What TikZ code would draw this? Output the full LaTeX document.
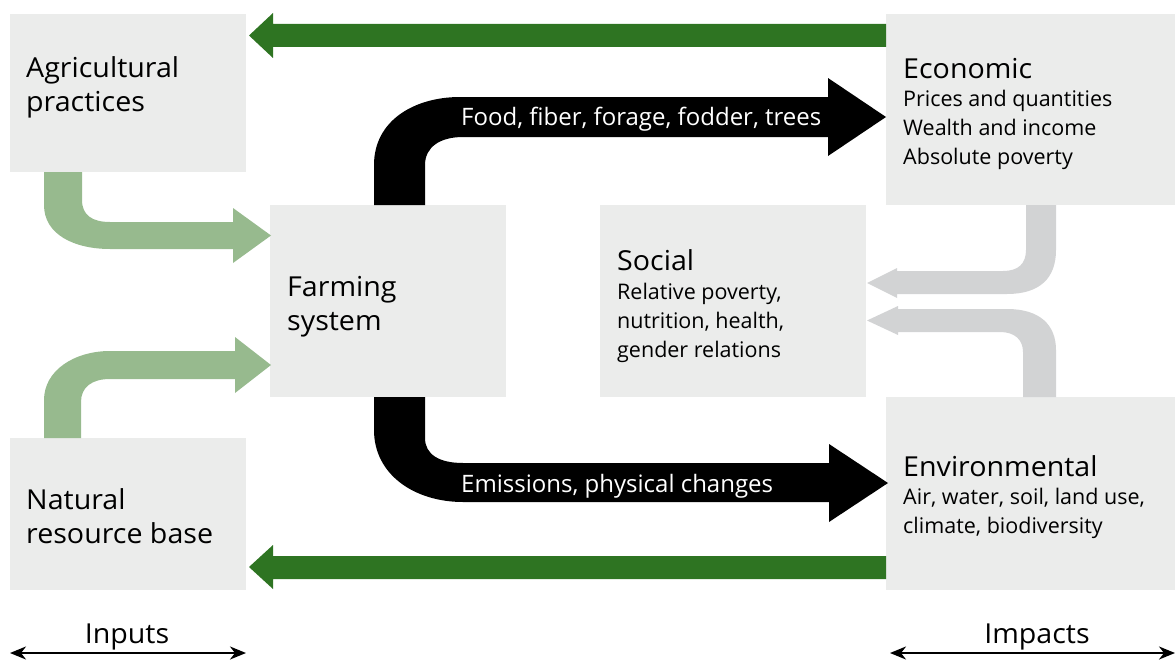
\documentclass[tikz,border=0pt]{standalone}
\usepackage{fontspec}
\setmainfont{Open Sans}[FakeStretch=1.04]
\newfontfamily\plainfont{Open Sans}
\usepackage{tikz}
\usetikzlibrary{arrows.meta}
\definecolor{boxgray}{RGB}{235,236,235}
\definecolor{lgreen}{RGB}{151,186,142}
\definecolor{dgreen}{RGB}{46,116,34}
\definecolor{lgray}{RGB}{210,211,212}
\tikzset{ttl/.style={font=\fontsize{27.5}{34}\selectfont},
  bdy/.style={font=\plainfont\fontsize{21.5}{28.7}\selectfont},
  lbl/.style={font=\plainfont\fontsize{24}{28}\selectfont,text=white}}

\begin{document}
\begin{tikzpicture}[x=1pt,y=-1pt]%
        \useasboundingbox (0,0) rectangle (1175,661);%%
        \begin{scope}[shape=rectangle,inner sep=0pt]
        \tikzstyle{every node}=[fill=boxgray] %%
        \node[minimum width=236pt,minimum height=158pt] (agri) at (128,93) {}; %%
        \node[minimum width=236pt,minimum height=152pt] (nrb) at (128,514) {}; %%
        \node[minimum width=236pt,minimum height=192pt] (farm) at (388,301) {}; %%
        \node[minimum width=266pt,minimum height=192pt] (soc) at (733,301) {}; %%
        \node[minimum width=289pt,minimum height=191pt] (eco) at (1030.5,109.5) {}; %%
        \node[minimum width=289pt,minimum height=193pt] (env) at (1030.5,493.5) {}; %%
        \end{scope}
        %% feedback arrows
        \fill[dgreen] (886,24)--(273,24)--(273,13)--(249,35.5)--(273,58)--(273,47)--(886,47)--cycle; %%
        \fill[dgreen] (886,556)--(273,556)--(273,545)--(249,567)--(273,589)--(273,579)--(886,579)--cycle; %%
        %% inputs
        \fill[lgreen] (44,172)--(44,205) .. controls (44,235) and (75,249) .. (110,249)--(233,249)--(233,263)--(271,235.5)--(233,208)--(233,222)--(110,222) .. controls (92,222) and (82,215) .. (82,200)--(82,172)--cycle; %%
        \fill[lgreen] (44,438)--(44,400) .. controls (44,370) and (75,351) .. (110,351)--(235,351)--(235,337)--(271,365)--(235,393)--(235,379)--(110,379) .. controls (92,379) and (81,387) .. (81,402)--(81,438)--cycle; %%
        %% outputs
        \fill[black] (374,205)--(374,165) .. controls (374,120) and (415,97) .. (460,97)--(828,97)--(828,78)--(886,117)--(828,156)--(828,137)--(463,137) .. controls (440,137) and (425,147) .. (425,165)--(425,205)--cycle; %%
        \fill[black] (374,397)--(374,430) .. controls (374,475) and (415,502) .. (463,502)--(829,502)--(829,522)--(888,483)--(829,444)--(829,463)--(463,463) .. controls (440,463) and (425,455) .. (425,438)--(425,397)--cycle; %%
        %% social links
        \fill[lgray] (1026,205)--(1026,250) .. controls (1026,264) and (1018,271) .. (1003,271)--(897,271)--(897,268)--(867,283)--(897,298)--(897,294)--(1007,294) .. controls (1040,294) and (1056,278) .. (1056,250)--(1056,205)--cycle; %%
        \fill[lgray] (1023,397)--(1023,352) .. controls (1023,340) and (1015,332) .. (1000,332)--(898,332)--(898,335)--(867,320.5)--(898,306)--(898,309)--(1007,309) .. controls (1040,309) and (1056,325) .. (1056,350)--(1056,397)--cycle; %%
        %% texts (base = last line)
        \begin{scope}[every node/.style={inner sep=0pt,anchor=base west,align=left}]
        \node[ttl] (tagri) at (26,111) {Agricultural\\practices}; %%
        \node[ttl] (tnrb) at (26,543) {Natural\\resource base}; %%
        \node[ttl] (tfarm) at (287,330) {Farming\\system}; %%
        \node[ttl] (tsoc) at (617,270) {Social}; %%
        \node[bdy] (bsoc) at (617,357) {Relative poverty,\\nutrition, health,\\gender relations}; %%
        \node[ttl] (teco) at (903,78) {Economic}; %%
        \node[bdy] (beco) at (903,164) {Prices and quantities\\Wealth and income\\Absolute poverty}; %%
        \node[ttl] (tenv) at (903,476) {Environmental}; %%
        \node[bdy] (benv) at (903,533) {Air, water, soil, land use,\\climate, biodiversity}; %%
        \node[lbl] (food) at (461,125.5) {Food, fiber, forage, fodder, trees}; %%
        \node[lbl] (emis) at (461,492) {Emissions, physical changes}; %%
        \end{scope}
        %% scale
        \coordinate (i1) at (10,653); \coordinate (i2) at (246,653); %%
        \coordinate (p1) at (890,653); \coordinate (p2) at (1175,653); %%
        \draw[line width=2pt,{Stealth[length=16pt,width=13pt,inset=5pt]}-{Stealth[length=16pt,width=13pt,inset=5pt]}] (i1)--(i2); %%
        \draw[line width=2pt,{Stealth[length=16pt,width=13pt,inset=5pt]}-{Stealth[length=16pt,width=13pt,inset=5pt]}] (p1)--(p2); %%
        \node[ttl,inner sep=0pt,anchor=base] (inp) at (127,643) {Inputs}; %%
        \node[ttl,inner sep=0pt,anchor=base] (imp) at (1037,643) {Impacts}; %%
\end{tikzpicture}
\end{document}
